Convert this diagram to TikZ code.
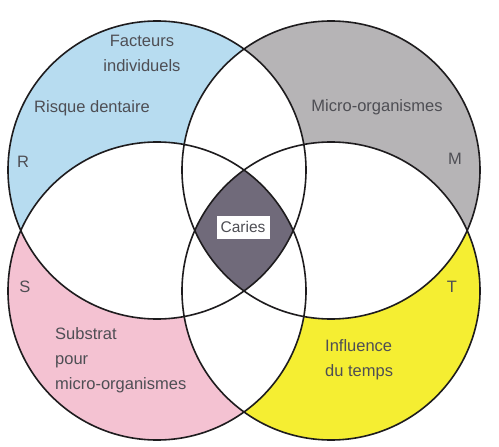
\documentclass[tikz,border=0pt]{standalone}
\usepackage{fontspec}
\setmainfont{Liberation Sans}
\definecolor{cblue}{RGB}{183,220,240}
\definecolor{cgray}{RGB}{182,180,182}
\definecolor{cpink}{RGB}{244,194,210}
\definecolor{cyellow}{RGB}{245,238,50}
\definecolor{cdark}{RGB}{112,106,122}
\definecolor{ctext}{RGB}{78,78,84}
\definecolor{cline}{RGB}{30,28,30}
\begin{document}
\begin{tikzpicture}[x=1pt,y=-1pt,
  lab/.style={font=\fontsize{16.5}{25}\selectfont, text=ctext, inner sep=0pt},
  ring/.style={draw=cline, line width=1.6pt}]
\useasboundingbox (0,0) rectangle (499,447);
\fill[white] (0,0) rectangle (499,447);
\coordinate (cR) at (157,170);
\coordinate (cM) at (331,170);
\coordinate (cS) at (157,291);
\coordinate (cT) at (331,291);
% coloured circles
\fill[cblue] (cR) circle[radius=149pt];
\fill[cgray] (cM) circle[radius=149pt];
\fill[cpink] (cS) circle[radius=149pt];
\fill[cyellow] (cT) circle[radius=149pt];
% white overlaps
\begin{scope}
  \clip (cR) circle[radius=149pt];
  \fill[white] (cM) circle[radius=149pt];
  \fill[white] (cS) circle[radius=149pt];
  \fill[white] (cT) circle[radius=149pt];
\end{scope}
\begin{scope}
  \clip (cM) circle[radius=149pt];
  \fill[white] (cS) circle[radius=149pt];
  \fill[white] (cT) circle[radius=149pt];
\end{scope}
\begin{scope}
  \clip (cS) circle[radius=149pt];
  \fill[white] (cT) circle[radius=149pt];
\end{scope}
% common part
\begin{scope}
  \clip (cR) circle[radius=149pt];
  \clip (cM) circle[radius=149pt];
  \clip (cS) circle[radius=149pt];
  \fill[cdark] (cT) circle[radius=149pt];
\end{scope}
% outlines
\draw[ring] (cR) circle[radius=149pt];
\draw[ring] (cM) circle[radius=149pt];
\draw[ring] (cS) circle[radius=149pt];
\draw[ring] (cT) circle[radius=149pt];
% labels
\node[lab, align=center] (facteurs) at (142,53) {Facteurs\\individuels};
\node[lab] (risque) at (92,108) {Risque dentaire};
\node[lab] (lR) at (23,162) {R};
\node[lab] (micro) at (377,107) {Micro-organismes};
\node[lab] (lM) at (455,159) {M};
\node[lab] (lS) at (25,287) {S};
\node[lab] (lT) at (452,287) {T};
\node[lab, align=left, anchor=west] (substrat) at (55,360) {Substrat\\pour\\micro-organismes};
\node[lab, align=left, anchor=west] (influence) at (325,360) {Influence\\du temps};
\node[lab, font=\fontsize{15.5}{18}\selectfont, fill=white, minimum width=53pt, minimum height=23pt] (caries) at (243,227) {Caries};
\end{tikzpicture}
\end{document}
